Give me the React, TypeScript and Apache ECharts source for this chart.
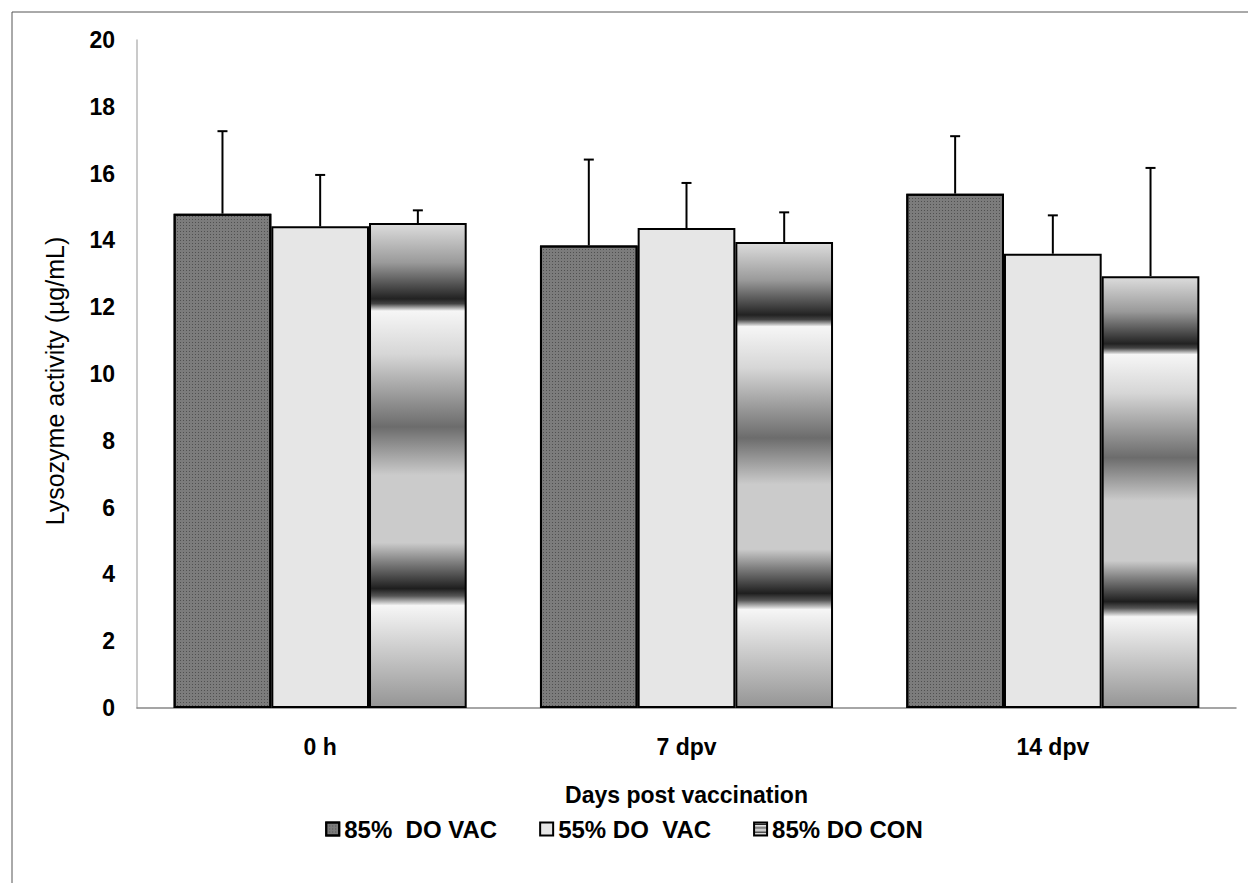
import React, { useEffect, useRef } from "react";
import * as echarts from "echarts";

const categories = ["0 h", "7 dpv", "14 dpv"];
const seriesNames = ["85%  DO VAC", "55% DO  VAC", "85% DO CON"];
const vac85 = [14.8, 13.85, 15.4];
const vac55 = [14.42, 14.37, 13.6];
const con85 = [14.52, 13.95, 12.93];
const vac85Err = [2.47, 2.57, 1.72];
const vac55Err = [1.54, 1.35, 1.15];
const con85Err = [0.38, 0.89, 3.24];
const yMin = 0;
const yMax = 20;
const yInterval = 2;

const FONT = "Arial, 'Liberation Sans', sans-serif";

const gradient = new echarts.graphic.LinearGradient(0, 0, 0, 1, [
  { offset: 0, color: "#dcdcdc" },
  { offset: 0.08, color: "#9a9a9a" },
  { offset: 0.155, color: "#222222" },
  { offset: 0.165, color: "#444444" },
  { offset: 0.18, color: "#f6f6f6" },
  { offset: 0.27, color: "#d6d6d6" },
  { offset: 0.42, color: "#6c6c6c" },
  { offset: 0.52, color: "#cbcbcb" },
  { offset: 0.66, color: "#cbcbcb" },
  { offset: 0.7, color: "#808080" },
  { offset: 0.755, color: "#1e1e1e" },
  { offset: 0.77, color: "#555555" },
  { offset: 0.79, color: "#f6f6f6" },
  { offset: 1, color: "#959595" },
]);

export default function App() {
  const ref = useRef<HTMLDivElement>(null);
  useEffect(() => {
    if (!ref.current) return;
    const chart = echarts.init(ref.current, null, { renderer: "svg" });
    const values = [vac85, vac55, con85];
    const errs = [vac85Err, vac55Err, con85Err];
    const errData: number[][] = [];
    values.forEach((arr, s) =>
      arr.forEach((v, c) => errData.push([c, s, v, errs[s][c]]))
    );
    const border = { borderColor: "#000", borderWidth: 2 };
    chart.setOption({
      animation: false,
      backgroundColor: "#fff",
      graphic: [
        {
          type: "rect",
          shape: { x: 12, y: 12, width: 1260, height: 900 },
          style: { fill: "none", stroke: "#555", lineWidth: 1 },
          silent: true,
        },
      ],
      grid: { left: 137, right: 12, top: 40, bottom: 175 },
      legend: {
        data: seriesNames,
        top: 812,
        left: "center",
        icon: "rect",
        itemWidth: 13,
        itemHeight: 13,
        itemGap: 42,
        textStyle: { fontFamily: FONT, fontWeight: "bold", fontSize: 24, color: "#000" },
      },
      xAxis: {
        type: "category",
        data: categories,
        axisLine: { show: true, lineStyle: { color: "#888", width: 1.5 } },
        axisTick: { show: false },
        axisLabel: {
          fontFamily: FONT,
          fontWeight: "bold",
          fontSize: 23,
          color: "#000",
          margin: 27,
        },
        name: "Days post vaccination",
        nameLocation: "middle",
        nameGap: 75,
        nameTextStyle: { fontFamily: FONT, fontWeight: "bold", fontSize: 23, color: "#000" },
      },
      yAxis: {
        type: "value",
        min: yMin,
        max: yMax,
        interval: yInterval,
        axisLine: { show: true, lineStyle: { color: "#b8b8b8", width: 1.5 } },
        axisTick: { show: false },
        splitLine: { show: false },
        axisLabel: {
          fontFamily: FONT,
          fontWeight: "bold",
          fontSize: 23,
          color: "#000",
          margin: 22,
        },
        name: "Lysozyme activity (µg/mL)",
        nameLocation: "middle",
        nameGap: 70,
        nameTextStyle: { fontFamily: FONT, fontSize: 25, color: "#000", padding: [0, 14, 0, 0] },
      },
      series: [
        {
          name: seriesNames[0],
          type: "bar",
          data: vac85,
          barGap: "0%",
          barCategoryGap: "20%",
          itemStyle: {
            color: "#7c7c7c",
            ...border,
            decal: {
              symbol: "rect",
              symbolSize: 1,
              color: "rgba(50,50,50,0.6)",
              dashArrayX: [1, 2],
              dashArrayY: [1, 2],
              rotation: 0,
            },
          },
        },
        {
          name: seriesNames[1],
          type: "bar",
          data: vac55,
          barGap: "0%",
          barCategoryGap: "20%",
          itemStyle: { color: "#e6e6e6", ...border },
        },
        {
          name: seriesNames[2],
          type: "bar",
          data: con85,
          barGap: "0%",
          barCategoryGap: "20%",
          itemStyle: { color: gradient, ...border },
        },
        {
          type: "custom",
          silent: true,
          z: 5,
          encode: { x: 0, y: 2 },
          data: errData,
          renderItem: (params: any, api: any) => {
            const c = api.value(0);
            const s = api.value(1);
            const v = api.value(2);
            const e = api.value(3);
            const base = api.coord([c, v]);
            const top = api.coord([c, v + e]);
            const bandW = api.size([1, 0])[0];
            const barW = (bandW * 0.8) / 3;
            const x = base[0] + (s - 1) * barW;
            const style = { stroke: "#000", lineWidth: 2 };
            return {
              type: "group",
              children: [
                { type: "line", shape: { x1: x, y1: base[1], x2: x, y2: top[1] }, style },
                { type: "line", shape: { x1: x - 5, y1: top[1], x2: x + 5, y2: top[1] }, style },
              ],
            };
          },
        },
      ],
    });
    return () => chart.dispose();
  }, []);
  return (
    <div
      ref={ref}
      style={{ position: "absolute", left: 0, top: 0, width: 1248, height: 883 }}
    />
  );
}
